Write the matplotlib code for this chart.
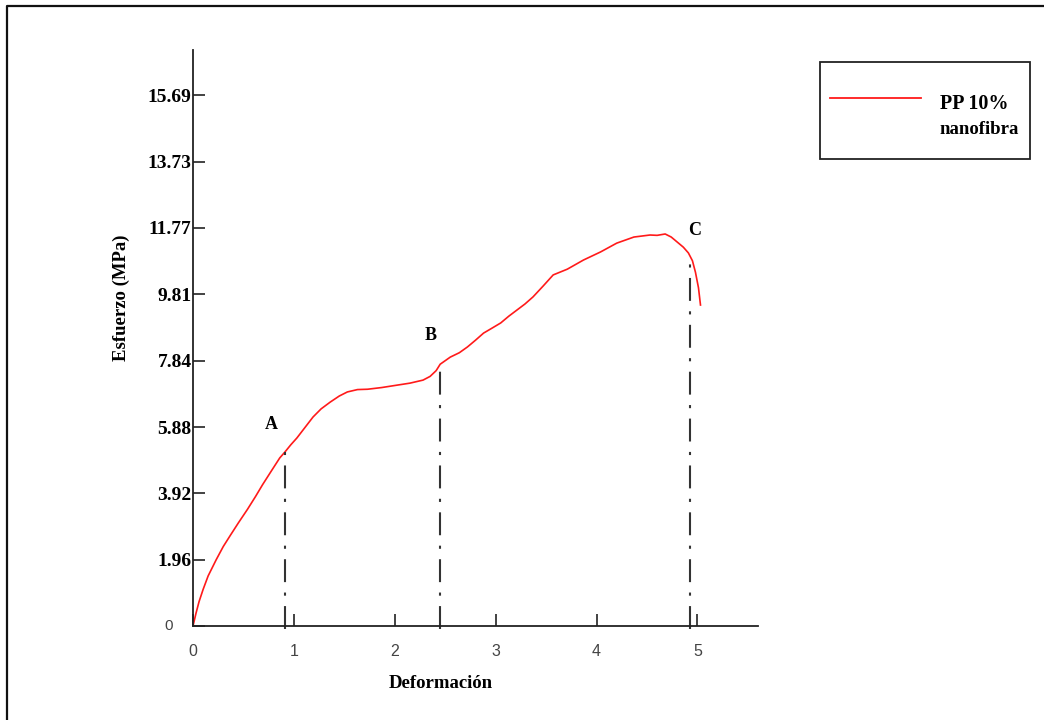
import matplotlib
matplotlib.use("Agg")
import matplotlib.pyplot as plt
from matplotlib.lines import Line2D
from matplotlib.patches import Rectangle

# ---- data ----
strain = [0.0, 0.03, 0.06, 0.1, 0.15, 0.23, 0.3, 0.37, 0.45, 0.54, 0.62, 0.69, 0.78, 0.86, 0.91,
          0.97, 1.03, 1.11, 1.19, 1.27, 1.36, 1.45, 1.53, 1.63, 1.73, 1.87, 2.02,
          2.15, 2.28, 2.35, 2.41, 2.45, 2.55, 2.64, 2.72, 2.8, 2.88, 2.96, 3.05,
          3.13, 3.21, 3.29, 3.37, 3.47, 3.57, 3.71, 3.87, 4.04, 4.2, 4.37, 4.53,
          4.6, 4.68, 4.74, 4.8, 4.86, 4.91, 4.95, 4.98, 5.01, 5.03]
stress = [0.0, 0.38, 0.72, 1.08, 1.48, 1.96, 2.35, 2.68, 3.05, 3.45, 3.83, 4.18, 4.6, 4.97, 5.14,
          5.36, 5.56, 5.87, 6.18, 6.42, 6.62, 6.8, 6.92, 6.99, 7.0, 7.05, 7.12,
          7.18, 7.27, 7.38, 7.55, 7.74, 7.95, 8.08, 8.25, 8.45, 8.66, 8.8, 8.96,
          9.16, 9.34, 9.52, 9.73, 10.05, 10.38, 10.55, 10.82, 11.06, 11.32, 11.5, 11.56,
          11.55, 11.59, 11.5, 11.35, 11.2, 11.03, 10.8, 10.46, 10.0, 9.49]

ytick_vals = [0, 1.96, 3.92, 5.88, 7.84, 9.81, 11.77, 13.73, 15.69]
ytick_labels = ["0", "1.96", "3.92", "5.88", "7.84", "9.81", "11.77", "13.73", "15.69"]
xtick_vals = [0, 1, 2, 3, 4, 5]

marker_names = ["A", "B", "C"]
marker_x = [0.91, 2.45, 4.93]
marker_y = [5.14, 7.74, 11.0]
marker_label_xy = [(0.78, 5.95), (2.36, 8.6), (4.97, 11.7)]

series_label = "PP 10%\nnanofibra"

# ---- figure ----
W, H = 1044, 720
fig = plt.figure(figsize=(W / 100, H / 100), dpi=100)

def fx(px):
    return px / W

def fy(py):
    return 1 - py / H

ax = fig.add_axes([fx(193), fy(626), fx(758) - fx(193), fy(50) - fy(626)])
ax.set_xlim(0, 5.6)
ax.set_ylim(0, 17.03)

for s in ["top", "right"]:
    ax.spines[s].set_visible(False)
for s in ["left", "bottom"]:
    ax.spines[s].set_color("#222222")
    ax.spines[s].set_linewidth(1.3)

ax.plot(strain, stress, color="#ff1a1a", lw=1.2)

# vertical marker lines
for mx, my in zip(marker_x, marker_y):
    ax.plot([mx, mx], [-0.1, my], color="#333333", lw=1.5,
            linestyle=(0, (11, 5, 1.5, 5)), clip_on=False)
for name, (lx, ly) in zip(marker_names, marker_label_xy):
    ax.text(lx, ly, name, ha="center", va="center", fontsize=13,
            fontweight="bold", family="Liberation Serif")

# y ticks
ax.set_yticks(ytick_vals)
ax.set_yticklabels([""] + ytick_labels[1:])
ax.tick_params(axis="y", direction="in", length=8.5, width=1.2, pad=1,
               color="#222222")
for lbl in ax.get_yticklabels():
    lbl.set_fontfamily("Liberation Serif")
    lbl.set_fontweight("bold")
    lbl.set_fontsize(14)
ax.annotate(ytick_labels[0], xy=(0, ytick_vals[0]), xytext=(-20, 0),
            textcoords="offset pixels", ha="right", va="center",
            fontsize=11, family="Liberation Sans", color="#444444",
            annotation_clip=False)

# x ticks
ax.set_xticks(xtick_vals)
ax.set_xticklabels([str(v) for v in xtick_vals])
ax.tick_params(axis="x", direction="in", length=8.5, width=1.2, pad=13,
               color="#222222", labelcolor="#444444")
for lbl in ax.get_xticklabels():
    lbl.set_fontfamily("Liberation Sans")
    lbl.set_fontsize(11.5)

# axis labels
fig.text(fx(121), fy(298), "Esfuerzo (MPa)", rotation=90, ha="center",
         va="center", fontsize=13.5, fontweight="bold", family="Liberation Serif")
fig.text(fx(441), fy(683), "Deformación", ha="center", va="center",
         fontsize=13.5, fontweight="bold", family="Liberation Serif")

# legend (manual)
fig.add_artist(Rectangle((fx(820), fy(159)), fx(1030) - fx(820), fy(62) - fy(159),
                         transform=fig.transFigure, fill=False,
                         edgecolor="#222222", lw=1.3))
fig.add_artist(Line2D([fx(830), fx(921)], [fy(98), fy(98)],
                      transform=fig.transFigure, color="#ff1a1a", lw=1.3))
fig.text(fx(940), fy(104), series_label.split("\n")[0], ha="left", va="center",
         fontsize=14.5, fontweight="bold", family="Liberation Serif")
fig.text(fx(939), fy(130), series_label.split("\n")[1], ha="left", va="center",
         fontsize=13.5, fontweight="bold", family="Liberation Serif")

# outer border (top and left)
fig.add_artist(Line2D([fx(7), fx(7), 1.0], [0.0, fy(6), fy(6)],
                      transform=fig.transFigure, color="#111111", lw=1.6))

fig.savefig("out.png", dpi=100)
